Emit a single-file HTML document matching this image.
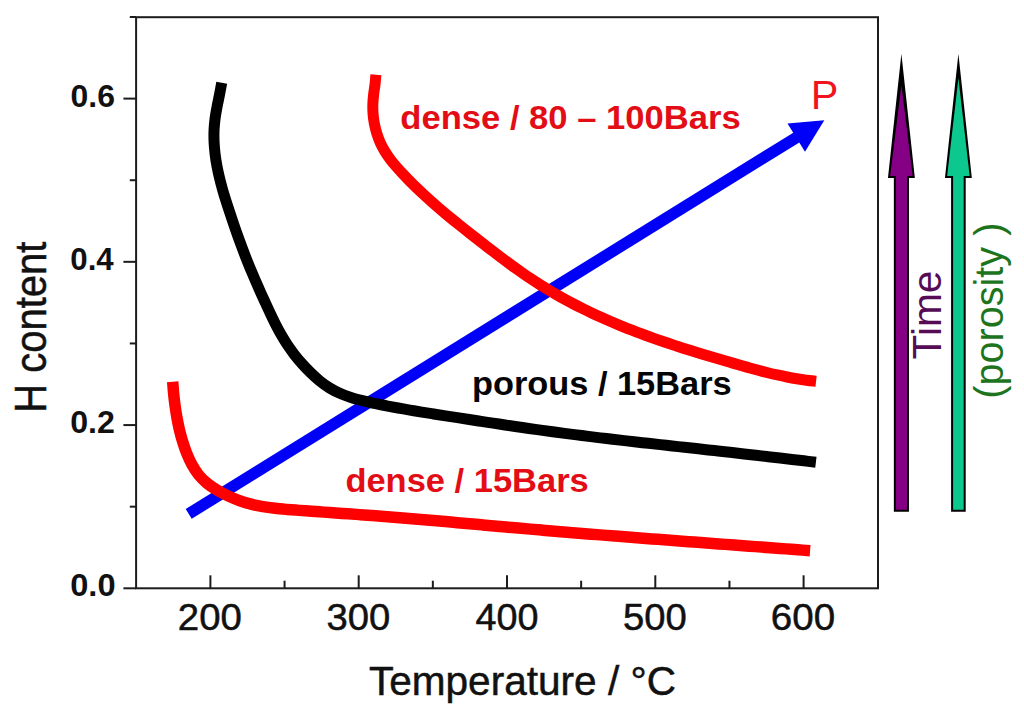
<!DOCTYPE html>
<html><head><meta charset="utf-8"><style>
html,body{margin:0;padding:0;background:#fff;width:1024px;height:709px;overflow:hidden}
svg{display:block}
text{font-family:"Liberation Sans",sans-serif}
.xl{stroke:#111;stroke-width:0.5px}
</style></head><body>
<svg width="1024" height="709" viewBox="0 0 1024 709">
<rect x="136.1" y="17.2" width="741.9" height="571.1" fill="none" stroke="#1c1c1c" stroke-width="2"/>
<line x1="123.4" y1="588.30" x2="136" y2="588.30" stroke="#1c1c1c" stroke-width="2"/>
<line x1="123.4" y1="425.07" x2="136" y2="425.07" stroke="#1c1c1c" stroke-width="2"/>
<line x1="123.4" y1="261.83" x2="136" y2="261.83" stroke="#1c1c1c" stroke-width="2"/>
<line x1="123.4" y1="98.60" x2="136" y2="98.60" stroke="#1c1c1c" stroke-width="2"/>
<line x1="129.8" y1="506.68" x2="136" y2="506.68" stroke="#1c1c1c" stroke-width="2"/>
<line x1="129.8" y1="343.45" x2="136" y2="343.45" stroke="#1c1c1c" stroke-width="2"/>
<line x1="129.8" y1="180.22" x2="136" y2="180.22" stroke="#1c1c1c" stroke-width="2"/>
<line x1="129.8" y1="16.98" x2="136" y2="16.98" stroke="#1c1c1c" stroke-width="2"/>
<line x1="210.40" y1="575.3" x2="210.40" y2="588" stroke="#1c1c1c" stroke-width="2"/>
<line x1="358.70" y1="575.3" x2="358.70" y2="588" stroke="#1c1c1c" stroke-width="2"/>
<line x1="507.00" y1="575.3" x2="507.00" y2="588" stroke="#1c1c1c" stroke-width="2"/>
<line x1="655.30" y1="575.3" x2="655.30" y2="588" stroke="#1c1c1c" stroke-width="2"/>
<line x1="803.60" y1="575.3" x2="803.60" y2="588" stroke="#1c1c1c" stroke-width="2"/>
<line x1="284.55" y1="580.7" x2="284.55" y2="588" stroke="#1c1c1c" stroke-width="2"/>
<line x1="432.85" y1="580.7" x2="432.85" y2="588" stroke="#1c1c1c" stroke-width="2"/>
<line x1="581.15" y1="580.7" x2="581.15" y2="588" stroke="#1c1c1c" stroke-width="2"/>
<line x1="729.45" y1="580.7" x2="729.45" y2="588" stroke="#1c1c1c" stroke-width="2"/>
<text transform="translate(70.23,596.35) scale(1.0190,1.0000)" font-size="32" font-weight="bold" fill="#111" >0.0</text>
<text transform="translate(70.24,432.85) scale(1.0048,1.0089)" font-size="32" font-weight="bold" fill="#111" >0.2</text>
<text transform="translate(70.28,270.15) scale(0.9767,0.9956)" font-size="32" font-weight="bold" fill="#111" >0.4</text>
<text transform="translate(70.55,107.45) scale(0.9976,0.9867)" font-size="32" font-weight="bold" fill="#111" >0.6</text>
<text transform="translate(177.83,630.45) scale(1.0376,1.0192)" font-size="37" font-weight="normal" fill="#111" class="xl">200</text>
<text transform="translate(326.40,630.45) scale(1.0332,1.0192)" font-size="37" font-weight="normal" fill="#111" class="xl">300</text>
<text transform="translate(475.48,630.45) scale(1.0202,1.0192)" font-size="37" font-weight="normal" fill="#111" class="xl">400</text>
<text transform="translate(623.00,630.45) scale(1.0332,1.0192)" font-size="37" font-weight="normal" fill="#111" class="xl">500</text>
<text transform="translate(770.77,630.45) scale(1.0421,1.0192)" font-size="37" font-weight="normal" fill="#111" class="xl">600</text>
<line x1="188.70" y1="513.90" x2="797.95" y2="136.52" stroke="#0000f8" stroke-width="11.5"/>
<polygon points="824.30,120.20 804.99,151.69 787.50,123.47" fill="#0000f8"/>
<path d="M221.73,82.80 C221.36,84.78 220.27,90.70 219.51,94.64 C218.74,98.59 217.84,102.51 217.11,106.46 C216.38,110.40 215.62,114.34 215.11,118.31 C214.60,122.28 214.21,126.27 214.04,130.28 C213.88,134.28 213.92,138.31 214.10,142.32 C214.28,146.34 214.65,150.37 215.13,154.36 C215.61,158.35 216.26,162.34 216.99,166.28 C217.73,170.23 218.60,174.14 219.54,178.03 C220.47,181.93 221.52,185.79 222.61,189.64 C223.70,193.48 224.88,197.31 226.08,201.13 C227.28,204.96 228.53,208.76 229.79,212.57 C231.05,216.38 232.33,220.19 233.63,223.99 C234.93,227.79 236.25,231.59 237.59,235.37 C238.94,239.15 240.31,242.93 241.71,246.69 C243.11,250.46 244.54,254.21 246.01,257.94 C247.48,261.67 248.99,265.38 250.52,269.08 C252.06,272.78 253.63,276.46 255.22,280.14 C256.82,283.82 258.44,287.48 260.08,291.14 C261.72,294.81 263.38,298.46 265.06,302.12 C266.73,305.78 268.40,309.45 270.13,313.09 C271.85,316.73 273.58,320.38 275.40,323.96 C277.23,327.54 279.09,331.11 281.08,334.58 C283.07,338.06 285.15,341.48 287.36,344.80 C289.58,348.12 291.92,351.35 294.37,354.51 C296.82,357.66 299.40,360.74 302.08,363.74 C304.76,366.75 307.55,369.71 310.45,372.54 C313.36,375.36 316.36,378.16 319.50,380.70 C322.63,383.24 325.88,385.66 329.27,387.77 C332.66,389.87 336.19,391.71 339.82,393.33 C343.44,394.95 347.21,396.27 351.01,397.50 C354.81,398.73 358.71,399.72 362.61,400.70 C366.51,401.68 370.47,402.51 374.40,403.36 C378.34,404.20 382.28,405.00 386.23,405.77 C390.17,406.55 394.12,407.28 398.06,408.00 C402.01,408.72 405.96,409.41 409.92,410.08 C413.87,410.76 417.82,411.41 421.78,412.06 C425.73,412.70 429.69,413.33 433.65,413.95 C437.61,414.58 441.57,415.20 445.53,415.82 C449.49,416.43 453.45,417.05 457.42,417.67 C461.38,418.28 465.34,418.90 469.31,419.51 C473.27,420.12 477.24,420.74 481.21,421.34 C485.18,421.95 489.14,422.56 493.11,423.16 C497.08,423.76 501.05,424.35 505.02,424.95 C509.00,425.54 512.97,426.13 516.94,426.71 C520.91,427.29 524.89,427.87 528.86,428.44 C532.84,429.01 536.81,429.57 540.79,430.13 C544.77,430.68 548.75,431.23 552.73,431.77 C556.70,432.31 560.68,432.85 564.67,433.37 C568.65,433.89 572.63,434.41 576.61,434.91 C580.59,435.42 584.58,435.92 588.56,436.41 C592.54,436.90 596.53,437.38 600.52,437.86 C604.50,438.33 608.49,438.80 612.47,439.27 C616.46,439.73 620.45,440.19 624.44,440.64 C628.42,441.10 632.41,441.55 636.40,442.00 C640.39,442.44 644.38,442.89 648.37,443.33 C652.36,443.77 656.35,444.21 660.34,444.65 C664.33,445.09 668.32,445.52 672.31,445.96 C676.30,446.40 680.29,446.83 684.28,447.27 C688.27,447.71 692.26,448.15 696.25,448.59 C700.24,449.03 704.23,449.47 708.21,449.91 C712.20,450.36 716.19,450.80 720.18,451.25 C724.17,451.69 728.16,452.14 732.15,452.59 C736.14,453.04 740.13,453.49 744.12,453.94 C748.11,454.40 752.10,454.85 756.09,455.30 C760.07,455.76 764.06,456.22 768.05,456.67 C772.04,457.13 776.03,457.59 780.01,458.05 C784.00,458.51 787.99,458.97 791.98,459.44 C795.96,459.90 799.95,460.36 803.94,460.83 C807.92,461.29 813.90,461.99 815.90,462.23" fill="none" stroke="#000" stroke-width="11" stroke-linejoin="round"/>
<path d="M375.89,74.80 C375.74,76.43 375.38,81.29 375.01,84.55 C374.63,87.81 374.01,91.08 373.65,94.33 C373.29,97.59 372.95,100.85 372.85,104.09 C372.75,107.34 372.81,110.58 373.06,113.82 C373.31,117.06 373.73,120.30 374.34,123.52 C374.95,126.74 375.74,129.98 376.71,133.13 C377.68,136.28 378.83,139.41 380.16,142.41 C381.50,145.41 383.03,148.33 384.70,151.12 C386.37,153.92 388.25,156.58 390.19,159.18 C392.14,161.79 394.25,164.28 396.38,166.76 C398.51,169.23 400.74,171.64 402.97,174.04 C405.21,176.43 407.49,178.80 409.79,181.14 C412.10,183.47 414.44,185.78 416.80,188.07 C419.16,190.35 421.55,192.60 423.96,194.83 C426.37,197.05 428.80,199.25 431.25,201.42 C433.70,203.60 436.16,205.74 438.64,207.87 C441.12,209.99 443.62,212.09 446.13,214.18 C448.63,216.27 451.15,218.33 453.68,220.39 C456.21,222.45 458.75,224.49 461.30,226.52 C463.85,228.56 466.40,230.58 468.96,232.60 C471.52,234.62 474.09,236.64 476.66,238.66 C479.23,240.67 481.81,242.69 484.39,244.69 C486.97,246.70 489.56,248.70 492.15,250.69 C494.75,252.68 497.35,254.67 499.96,256.63 C502.58,258.60 505.20,260.56 507.84,262.50 C510.47,264.44 513.12,266.36 515.78,268.26 C518.44,270.16 521.11,272.05 523.80,273.91 C526.49,275.76 529.19,277.60 531.91,279.41 C534.63,281.21 537.37,283.00 540.12,284.74 C542.88,286.49 545.66,288.21 548.45,289.90 C551.24,291.59 554.06,293.24 556.89,294.87 C559.72,296.49 562.57,298.08 565.43,299.65 C568.30,301.21 571.18,302.74 574.08,304.25 C576.97,305.76 579.89,307.23 582.81,308.68 C585.74,310.13 588.68,311.56 591.64,312.95 C594.59,314.35 597.56,315.72 600.54,317.07 C603.52,318.41 606.51,319.73 609.52,321.03 C612.52,322.32 615.53,323.60 618.56,324.84 C621.58,326.09 624.61,327.32 627.65,328.53 C630.69,329.73 633.75,330.91 636.80,332.08 C639.86,333.24 642.93,334.38 646.00,335.50 C649.07,336.63 652.15,337.73 655.23,338.82 C658.31,339.90 661.40,340.97 664.50,342.02 C667.59,343.07 670.69,344.11 673.79,345.13 C676.90,346.15 680.00,347.15 683.12,348.15 C686.23,349.14 689.35,350.12 692.47,351.10 C695.59,352.07 698.71,353.03 701.84,353.98 C704.96,354.93 708.09,355.87 711.23,356.81 C714.36,357.74 717.49,358.67 720.63,359.59 C723.77,360.51 726.91,361.43 730.05,362.34 C733.19,363.26 736.33,364.17 739.48,365.07 C742.63,365.97 745.77,366.87 748.92,367.74 C752.08,368.61 755.23,369.48 758.39,370.31 C761.55,371.14 764.72,371.96 767.89,372.74 C771.06,373.52 774.24,374.27 777.43,374.98 C780.61,375.69 783.80,376.37 787.01,377.00 C790.21,377.63 793.42,378.22 796.64,378.75 C799.86,379.28 803.09,379.76 806.33,380.18 C809.57,380.60 814.46,381.08 816.08,381.26" fill="none" stroke="#ff0000" stroke-width="11" stroke-linejoin="round"/>
<path d="M172.70,381.80 C172.86,383.82 173.27,389.87 173.67,393.92 C174.07,397.96 174.54,402.04 175.10,406.08 C175.65,410.12 176.28,414.17 177.02,418.17 C177.75,422.16 178.55,426.13 179.49,430.07 C180.44,434.01 181.47,437.91 182.67,441.78 C183.88,445.66 185.19,449.53 186.73,453.32 C188.27,457.11 189.92,460.96 191.89,464.53 C193.86,468.09 196.02,471.61 198.55,474.74 C201.08,477.86 203.98,480.70 207.07,483.28 C210.17,485.85 213.63,488.09 217.12,490.19 C220.61,492.29 224.32,494.15 228.02,495.87 C231.72,497.60 235.50,499.16 239.32,500.54 C243.14,501.92 247.03,503.11 250.95,504.13 C254.87,505.15 258.85,505.94 262.84,506.63 C266.84,507.33 270.88,507.83 274.92,508.30 C278.97,508.77 283.04,509.10 287.11,509.44 C291.18,509.79 295.25,510.07 299.32,510.38 C303.39,510.68 307.45,510.97 311.52,511.26 C315.58,511.56 319.64,511.84 323.70,512.13 C327.76,512.41 331.81,512.70 335.87,512.98 C339.92,513.26 343.98,513.54 348.03,513.83 C352.08,514.11 356.13,514.40 360.18,514.69 C364.24,514.98 368.29,515.27 372.34,515.57 C376.39,515.87 380.44,516.18 384.49,516.49 C388.54,516.80 392.59,517.12 396.64,517.44 C400.69,517.77 404.74,518.10 408.79,518.44 C412.84,518.77 416.89,519.11 420.94,519.46 C424.99,519.80 429.04,520.15 433.09,520.51 C437.14,520.86 441.19,521.21 445.24,521.57 C449.29,521.93 453.34,522.29 457.39,522.65 C461.45,523.01 465.50,523.38 469.55,523.74 C473.60,524.10 477.65,524.47 481.70,524.83 C485.75,525.20 489.80,525.56 493.86,525.92 C497.91,526.29 501.96,526.65 506.01,527.01 C510.06,527.37 514.12,527.73 518.17,528.08 C522.22,528.44 526.27,528.79 530.32,529.14 C534.38,529.49 538.43,529.83 542.48,530.18 C546.54,530.52 550.59,530.86 554.64,531.20 C558.69,531.54 562.75,531.87 566.80,532.20 C570.85,532.54 574.91,532.87 578.96,533.19 C583.01,533.52 587.07,533.85 591.12,534.17 C595.17,534.50 599.23,534.82 603.28,535.14 C607.34,535.46 611.39,535.77 615.44,536.09 C619.50,536.41 623.55,536.72 627.61,537.04 C631.66,537.35 635.72,537.66 639.77,537.97 C643.83,538.28 647.88,538.59 651.94,538.90 C655.99,539.21 660.05,539.52 664.10,539.82 C668.16,540.13 672.21,540.44 676.27,540.74 C680.32,541.05 684.38,541.35 688.43,541.66 C692.49,541.96 696.54,542.26 700.60,542.57 C704.65,542.87 708.71,543.17 712.77,543.48 C716.82,543.78 720.88,544.08 724.93,544.38 C728.99,544.68 733.04,544.98 737.10,545.29 C741.16,545.59 745.21,545.89 749.27,546.19 C753.32,546.49 757.38,546.79 761.43,547.09 C765.49,547.39 769.55,547.69 773.60,547.99 C777.66,548.29 781.71,548.59 785.77,548.89 C789.82,549.20 793.88,549.50 797.93,549.80 C801.99,550.10 808.07,550.55 810.10,550.70" fill="none" stroke="#ff0000" stroke-width="11.5" stroke-linejoin="round"/>
<text transform="translate(400.27,129.00) scale(1.0179,0.9878)" font-size="34" font-weight="bold" fill="#e30d16" >dense / 80 – 100Bars</text>
<text transform="translate(471.92,395.30) scale(1.0113,0.9796)" font-size="34" font-weight="bold" fill="#050505" >porous / 15Bars</text>
<text transform="translate(345.38,492.00) scale(1.0145,0.9592)" font-size="34" font-weight="bold" fill="#e30d16" >dense / 15Bars</text>
<text transform="translate(810.64,108.70) scale(1.0353,1.0364)" font-size="40" font-weight="normal" fill="#f0141e" >P</text>
<text transform="translate(368.89,694.80) scale(1.0148,1.0000)" font-size="40" font-weight="normal" fill="#111" class="xl">Temperature / °C</text>
<text transform="translate(46.40,412.83) rotate(-90) scale(0.9523,1.0783)" font-size="42" font-weight="normal" fill="#111" class="xl">H content</text>
<polygon points="901.40,53.80 914.85,178.10 908.95,178.10 908.95,511.80 893.85,511.80 893.85,178.10 887.95,178.10" fill="#000"/><polygon points="901.40,85.00 912.65,176.10 906.95,176.10 906.95,509.80 895.85,509.80 895.85,176.10 890.15,176.10" fill="#850085"/>
<polygon points="958.40,53.80 971.85,178.10 965.70,178.10 965.70,511.80 951.10,511.80 951.10,178.10 944.95,178.10" fill="#000"/><polygon points="958.40,78.00 969.65,176.10 963.70,176.10 963.70,509.80 953.10,509.80 953.10,176.10 947.15,176.10" fill="#0cc88f"/>
<text transform="translate(940.60,359.42) rotate(-90) scale(1.0159,1.0000)" font-size="40" font-weight="normal" fill="#550c55" >Time</text>
<text transform="translate(1003.40,398.67) rotate(-90) scale(0.9899,1.0034)" font-size="40" font-weight="normal" fill="#1d741d" >(porosity )</text>
</svg>
</body></html>
